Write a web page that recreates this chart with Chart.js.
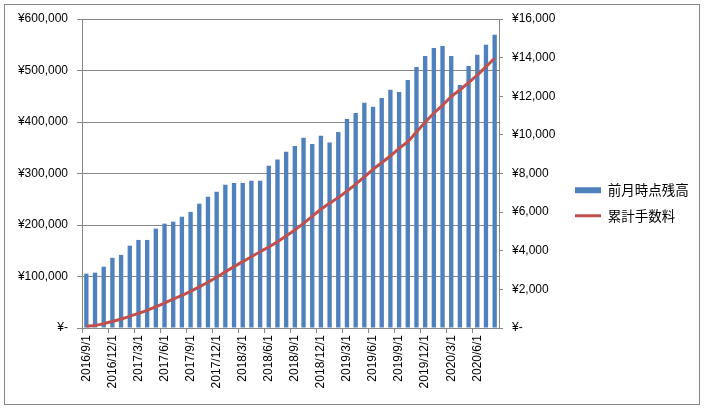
<!DOCTYPE html>
<html>
<head>
<meta charset="utf-8">
<script src="https://cdn.jsdelivr.net/npm/chart.js@4"></script>
<style>
  body { margin: 0; background: #fff; }
  #wrap { position: relative; width: 705px; height: 409px; }
  #frame { position: absolute; left: 4px; top: 4px; width: 694px; height: 399px; border: 1px solid #888; pointer-events: none; }
</style>
</head>
<body>
<div id="wrap">
  <canvas id="myChart" width="705" height="409"></canvas>
  <div id="frame"></div>
</div>
<script>
// 月次データ
const meses = [
  '2016/9/1', '2016/10/1', '2016/11/1', '2016/12/1', '2017/1/1', '2017/2/1',
  '2017/3/1', '2017/4/1', '2017/5/1', '2017/6/1', '2017/7/1', '2017/8/1',
  '2017/9/1', '2017/10/1', '2017/11/1', '2017/12/1', '2018/1/1', '2018/2/1',
  '2018/3/1', '2018/4/1', '2018/5/1', '2018/6/1', '2018/7/1', '2018/8/1',
  '2018/9/1', '2018/10/1', '2018/11/1', '2018/12/1', '2019/1/1', '2019/2/1',
  '2019/3/1', '2019/4/1', '2019/5/1', '2019/6/1', '2019/7/1', '2019/8/1',
  '2019/9/1', '2019/10/1', '2019/11/1', '2019/12/1', '2020/1/1', '2020/2/1',
  '2020/3/1', '2020/4/1', '2020/5/1', '2020/6/1', '2020/7/1', '2020/8/1'
];
const zandaka = [
  105500, 107400, 119000, 136300, 142000, 159900, 171000, 171000, 193000, 202600, 206500, 216000,
  225500, 241400, 255000, 264400, 278200, 281500, 281500, 286000, 286000, 315000, 327000, 342400,
  353500, 369300, 357500, 373300, 360300, 380800, 406000, 417700, 437200, 429500, 446800, 462800,
  458200, 481700, 506800, 528200, 543800, 547700, 528200, 472000, 508700, 530400, 549800, 569600
];
const tesuryo = [
  100, 130, 225, 345, 465, 605, 760, 915, 1090, 1295, 1500, 1690,
  1900, 2130, 2370, 2625, 2915, 3175, 3435, 3690, 3950, 4195, 4470, 4765,
  5075, 5420, 5780, 6150, 6460, 6750, 7095, 7440, 7820, 8215, 8560, 8905,
  9300, 9650, 10150, 10650, 11120, 11530, 11980, 12325, 12700, 13100, 13530, 13970
];
const ticksIzq = [0, 100000, 200000, 300000, 400000, 500000, 600000];
const ticksDer = [0, 2000, 4000, 6000, 8000, 10000, 12000, 14000, 16000];

const gris = '#868686';
const fuente = { family: "'Liberation Sans', 'Noto Sans CJK JP'", size: 12 };
const yen = v => v === 0 ? '¥-' : '¥' + v.toLocaleString('en-US');

Chart.defaults.color = '#000';

// 凡例を少し上へ
const subirLeyenda = {
  id: 'subirLeyenda',
  afterLayout: c => { c.legend.top -= 21; c.legend.bottom -= 1; }
};

const ctx = document.getElementById('myChart').getContext('2d');
const myChart = new Chart(ctx, {
  type: 'bar',
  data: {
    labels: meses,
    datasets: [{
      label: '前月時点残高',
      data: zandaka,
      backgroundColor: '#4F81BD',
      borderWidth: 0,
      barPercentage: 0.5,
      categoryPercentage: 1,
      pointStyle: 'rect',
      yAxisID: 'y',
      order: 2
    }, {
      type: 'line',
      label: '累計手数料',
      data: tesuryo,
      borderColor: '#C0504D',
      backgroundColor: '#C0504D',
      borderWidth: 3,
      pointRadius: 0,
      pointStyle: 'line',
      tension: 0.25,
      yAxisID: 'y1',
      order: 1
    }]
  },
  plugins: [subirLeyenda],
  options: {
    responsive: false,
    animation: false,
    devicePixelRatio: 1,
    layout: { padding: { top: 19, left: 0, right: 0, bottom: 0 } },
    scales: {
      x: {
        offset: true,
        grid: {
          offset: true,
          drawOnChartArea: false,
          tickLength: 5,
          color: ctx => (ctx.index % 3 === 0 ? gris : 'rgba(0,0,0,0)')
        },
        border: { color: gris },
        ticks: {
          autoSkip: false,
          maxRotation: 90,
          minRotation: 90,
          padding: 2,
          font: fuente,
          callback: function (v, i) { return i % 3 === 0 ? this.getLabelForValue(v) : ''; }
        },
        afterFit: s => { s.height = 81; }
      },
      y: {
        position: 'left',
        min: 0,
        max: 600000,
        afterBuildTicks: s => { s.ticks = ticksIzq.map(v => ({ value: v })); },
        grid: { color: gris, tickLength: 5 },
        border: { color: gris },
        ticks: { padding: 9, font: fuente, callback: yen },
        afterFit: s => { s.width = 82; }
      },
      y1: {
        position: 'right',
        min: 0,
        max: 16000,
        afterBuildTicks: s => { s.ticks = ticksDer.map(v => ({ value: v })); },
        grid: { drawOnChartArea: false, color: gris, tickLength: 4 },
        border: { color: gris },
        ticks: { padding: 9, font: fuente, callback: yen },
        afterFit: s => { s.width = 64; }
      }
    },
    plugins: {
      legend: {
        position: 'right',
        labels: {
          usePointStyle: true,
          pointStyleWidth: 26,
          boxWidth: 26,
          boxHeight: 6,
          padding: 12,
          font: { family: "'Noto Sans CJK JP', 'Liberation Sans'", size: 13.5 },
          sort: (a, b) => a.datasetIndex - b.datasetIndex
        }
      },
      tooltip: { enabled: false }
    }
  }
});

// 凡例の幅を固定（文字が切れないように）
const fitOrig = myChart.legend.fit;
myChart.legend.fit = function () {
  fitOrig.call(this);
  this.width = 142;
};
myChart.update();
</script>
</body>
</html>
